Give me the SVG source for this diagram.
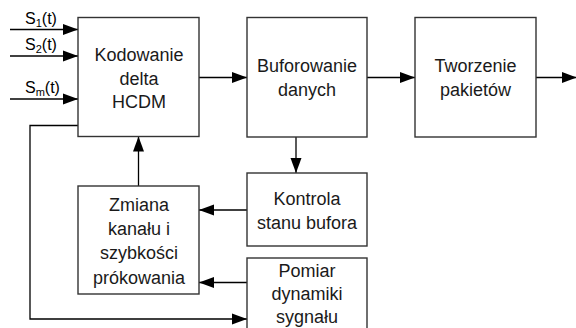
<svg xmlns="http://www.w3.org/2000/svg" width="576" height="328" viewBox="0 0 576 328">
<defs>
<marker id="ah" markerUnits="userSpaceOnUse" markerWidth="16" markerHeight="12" refX="15" refY="6" orient="auto">
<path d="M0,0.5 L15,6 L0,11.5 Z" fill="#000"/>
</marker>
<style>
.box{fill:#fff;stroke:#333;stroke-width:1.4}
.t{font-family:"Liberation Sans",Arial,sans-serif;font-size:18px;fill:#1a1a1a;text-anchor:middle}
.s{font-family:"Liberation Sans",Arial,sans-serif;font-size:16px;fill:#000}
.c{fill:none;stroke:#000;stroke-width:1.3}
.ca{fill:none;stroke:#000;stroke-width:1.3;marker-end:url(#ah)}
</style>
</defs>
<rect width="576" height="328" fill="#fff"/>
<g id="connectors">
<line class="ca" x1="10" y1="29.5" x2="78" y2="29.5"/>
<line class="ca" x1="10" y1="56" x2="78" y2="56"/>
<line class="ca" x1="10" y1="99" x2="78" y2="99"/>
<line class="ca" x1="199" y1="77.5" x2="247" y2="77.5"/>
<line class="ca" x1="367" y1="77.5" x2="415" y2="77.5"/>
<line class="ca" x1="536" y1="77.5" x2="577" y2="77.5"/>
<line class="ca" x1="296" y1="137" x2="296" y2="173"/>
<line class="ca" x1="247" y1="210" x2="199" y2="210"/>
<line class="ca" x1="247" y1="282.5" x2="199" y2="282.5"/>
<line class="ca" x1="138.5" y1="186" x2="138.5" y2="136.5"/>
<polyline class="ca" points="78,125.5 30,125.5 30,319 247,319"/>
</g>
<g id="inputs">
<text class="s" x="25" y="24">S<tspan font-size="11" dy="3">1</tspan><tspan dy="-3">(t)</tspan></text>
<text class="s" x="25" y="50">S<tspan font-size="11" dy="3">2</tspan><tspan dy="-3">(t)</tspan></text>
<text class="s" x="25" y="93">S<tspan font-size="11" dy="3">m</tspan><tspan dy="-3">(t)</tspan></text>
</g>
<g id="kodowanie">
<rect class="box" x="78" y="17.5" width="121" height="119"/>
<text class="t" x="139" y="61">Kodowanie</text>
<text class="t" x="139" y="85">delta</text>
<text class="t" x="139" y="108">HCDM</text>
</g>
<g id="buforowanie">
<rect class="box" x="247" y="17.5" width="120" height="119.5"/>
<text class="t" x="307" y="72">Buforowanie</text>
<text class="t" x="307" y="96">danych</text>
</g>
<g id="tworzenie">
<rect class="box" x="415" y="17.5" width="121" height="119.5"/>
<text class="t" x="475.5" y="72">Tworzenie</text>
<text class="t" x="475.5" y="96">pakietów</text>
</g>
<g id="zmiana">
<rect class="box" x="78" y="186" width="121" height="108"/>
<text class="t" x="139" y="211">Zmiana</text>
<text class="t" x="139" y="235">kanału i</text>
<text class="t" x="139" y="259">szybkości</text>
<text class="t" x="139" y="283.5">prókowania</text>
</g>
<g id="kontrola">
<rect class="box" x="247" y="173" width="120" height="73"/>
<text class="t" x="307" y="205">Kontrola</text>
<text class="t" x="307" y="229">stanu bufora</text>
</g>
<g id="pomiar">
<rect class="box" x="247" y="258" width="120" height="80"/>
<text class="t" x="307" y="277">Pomiar</text>
<text class="t" x="307" y="300">dynamiki</text>
<text class="t" x="307" y="323">sygnału</text>
</g>
</svg>
